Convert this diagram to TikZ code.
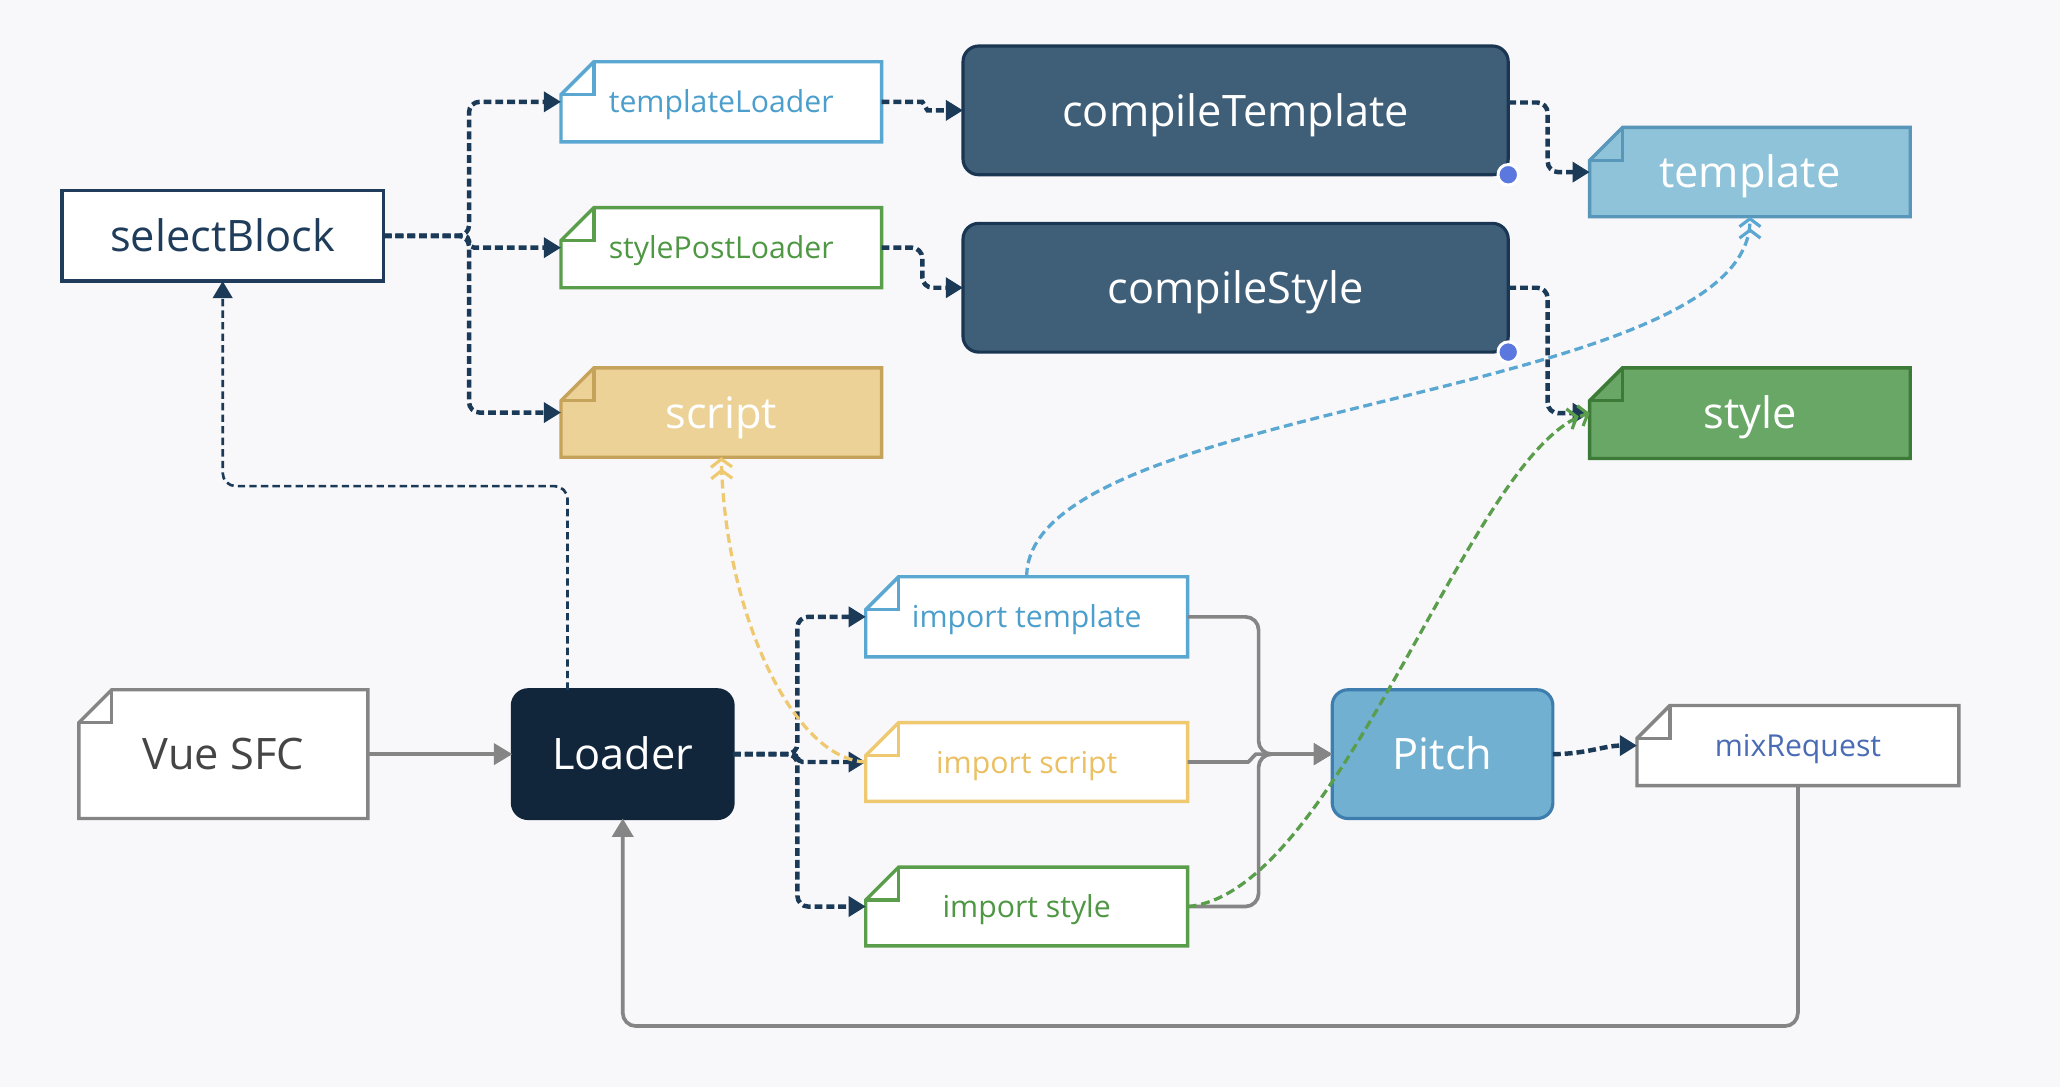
\documentclass[tikz,border=0pt]{standalone}
\usepackage{fontspec}
\setmainfont{Open Sans}
\usetikzlibrary{arrows.meta,calc}
\pgfdeclarelayer{back}
\pgfdeclarelayer{notes}
\pgfsetlayers{back,notes,main}

\definecolor{bg}{HTML}{F8F8FB}
\definecolor{navy}{HTML}{1B3A57}
\definecolor{sbnavy}{HTML}{1F3D5B}
\definecolor{compfill}{HTML}{3F5F78}
\definecolor{compdraw}{HTML}{1B3652}
\definecolor{loaderfill}{HTML}{12263B}
\definecolor{tblue}{HTML}{5AA7D2}
\definecolor{tbluetext}{HTML}{4C9FCC}
\definecolor{sgreen}{HTML}{5A9E4C}
\definecolor{sgreentext}{HTML}{4E9743}
\definecolor{scriptfill}{HTML}{ECD296}
\definecolor{scriptdraw}{HTML}{C6A35B}
\definecolor{tplfill}{HTML}{8FC3DA}
\definecolor{tpldraw}{HTML}{5897BA}
\definecolor{stfill}{HTML}{68A766}
\definecolor{stdraw}{HTML}{3D7A37}
\definecolor{gbord}{HTML}{858585}
\definecolor{vuetext}{HTML}{454545}
\definecolor{ylw}{HTML}{EFC96F}
\definecolor{ylwtext}{HTML}{EBC062}
\definecolor{pitchfill}{HTML}{72B0D2}
\definecolor{pitchdraw}{HTML}{3E7EAE}
\definecolor{mrtext}{HTML}{4A6CB5}
\definecolor{gline}{HTML}{858585}
\definecolor{dotblue}{HTML}{5B78DE}

\tikzset{
  base/.style={inner sep=0pt, outer sep=0pt, align=center},
  big/.style={base, font=\fontsize{16.5}{20}\selectfont, text height=12pt, text depth=0pt},
  small/.style={base, font=\fontsize{11.5}{14}\selectfont, text height=8.4pt, text depth=0pt},
  roundbox/.style={big, rounded corners=6pt, line width=1.2pt, text=white},
  flow/.style={draw=navy, line width=1.7pt, dash pattern=on 3pt off 1.5pt,
    rounded corners=4pt, -{Triangle[length=6.5pt,width=7.5pt]}},
  thinflow/.style={draw=navy, line width=1pt, dash pattern=on 2.8pt off 1.6pt,
    rounded corners=5pt, -{Triangle[length=6.5pt,width=7.5pt]}},
  grayflow/.style={draw=gline, line width=1.4pt, rounded corners=5pt,
    -{Triangle[length=7pt,width=8pt]}},
  dep/.style={line width=1.25pt, dash pattern=on 3.4pt off 1.8pt,
    -{Straight Barb[length=3pt,width=8pt,line width=1.2pt] Straight Barb[length=3pt,width=8pt,line width=1.2pt]}},
}

% name, cx, cy, w, h, fill, draw, node options, text
\newcommand\mknote[9]{%
  \node[#8, minimum width=#4*0.5pt, minimum height=#5*0.5pt] (#1) at (#2,#3) {#9};
  \begin{pgfonlayer}{notes}
    \draw[line width=1.3pt, line join=miter, fill=#6, draw=#7]
      ($(#1.north west)+(25,0)$) -- (#1.north east) -- (#1.south east)
      -- (#1.south west) -- ($(#1.north west)+(0,25)$) -- cycle;
    \draw[line width=1.3pt, draw=#7]
      ($(#1.north west)+(25,0)$) -- ++(0,25) -- ++(-25,0);
  \end{pgfonlayer}}

\begin{document}
\begin{tikzpicture}[x=0.5pt, y={(0pt,-0.5pt)}]
\begin{pgfonlayer}{back}
  \fill[bg] (0,0) rectangle (1568,827);
\end{pgfonlayer}
\useasboundingbox (0,0) rectangle (1568,827);

% nodes
\mknote{tl}{549}{77.5}{244}{61}{white}{tblue}{small, text=tbluetext}{templateLoader}
\mknote{spl}{549}{188.5}{244}{61}{white}{sgreen}{small, text=sgreentext}{stylePostLoader}
\mknote{scr}{549}{314}{244}{68}{scriptfill}{scriptdraw}{big, text=white}{script}
\node[big, draw=sbnavy, fill=white, line width=1.4pt, minimum width=122.5pt,
  minimum height=34.5pt, text=sbnavy] (sb) at (169.5,179.5) {selectBlock};
\node[roundbox, fill=compfill, draw=compdraw, minimum width=207.5pt,
  minimum height=49pt] (ct) at (940.5,84) {compileTemplate};
\node[roundbox, fill=compfill, draw=compdraw, minimum width=207.5pt,
  minimum height=49pt] (cs) at (940.5,219) {compileStyle};
\mknote{tp}{1332}{131}{244}{68}{tplfill}{tpldraw}{big, text=white}{template}
\mknote{st}{1332}{314.5}{244}{69}{stfill}{stdraw}{big, text=white}{style}
\mknote{vue}{170}{574}{220}{98}{white}{gbord}{big, text=vuetext}{Vue SFC}
\node[roundbox, fill=loaderfill, draw=loaderfill, minimum width=84pt,
  minimum height=49pt] (ld) at (474,574) {Loader};
\mknote{itp}{781.5}{469.5}{245}{61}{white}{tblue}{small, text=tbluetext}{import template}
\mknote{isc}{781.5}{580}{245}{60}{white}{ylw}{small, text=ylwtext}{import script}
\mknote{ist}{781.5}{690}{245}{60}{white}{sgreen}{small, text=sgreentext}{import style}
\node[roundbox, fill=pitchfill, draw=pitchdraw, minimum width=84pt,
  minimum height=49pt] (pt) at (1098,574) {Pitch};
\mknote{mr}{1368.5}{567.5}{245}{61}{white}{gbord}{small, text=mrtext}{mixRequest}

% navy dashed flows
\draw[flow] (sb.east) -- (357,179.5) |- (tl.west);
\draw[flow, rounded corners=2pt] (sb.east) -- (357,179.5) |- (spl.west);
\draw[flow] (sb.east) -- (357,179.5) |- (scr.west);
\draw[flow] (tl.east) -- (694,77.5) to[out=0,in=180] (714,84) -- (ct.west);
\draw[flow] (spl.east) -- (702,188.5) |- (cs.west);
\draw[flow] ([yshift=3pt]ct.east) -- (1178,78) |- (tp.west);
\draw[flow] (cs.east) -- (1178,219) |- (st.west);
\draw[thinflow] ([xshift=-21pt]ld.north) -- ++(0,-155) -| (sb.south);
\draw[flow] (ld.east) -- (607,574) |- (itp.west);
\draw[flow, rounded corners=2pt] (ld.east) -- (607,574) |- (isc.west);
\draw[flow] (ld.east) -- (607,574) |- (ist.west);
\draw[flow] (pt.east) to[out=0,in=180] (mr.west);

% gray flows
\draw[grayflow] (vue.east) -- (ld.west);
\draw[grayflow] (itp.east) -- (958,469.5) |- (pt.west);
\draw[grayflow] (isc.east) -- (940,580) to[out=0,in=180] (966,574) -- (pt.west);
\draw[grayflow] (ist.east) -- (958,690) |- (pt.west);
\draw[grayflow] (mr.south) |- (900,781) -| (ld.south);

% dependency curves
\draw[dep, draw=tblue] (itp.north) .. controls (781,305) and (1332,305) .. (tp.south);
\draw[dep, draw=ylw] (isc.west) .. controls (605,578) and (552,470) .. (scr.south);
\draw[dep, draw=sgreen] (ist.east) .. controls (1020,680) and (1120,340) .. (st.west);

% handles
\filldraw[fill=dotblue, draw=white, line width=1.1pt] (ct.south east) circle (3.9pt);
\filldraw[fill=dotblue, draw=white, line width=1.1pt] (cs.south east) circle (3.9pt);
\end{tikzpicture}
\end{document}
